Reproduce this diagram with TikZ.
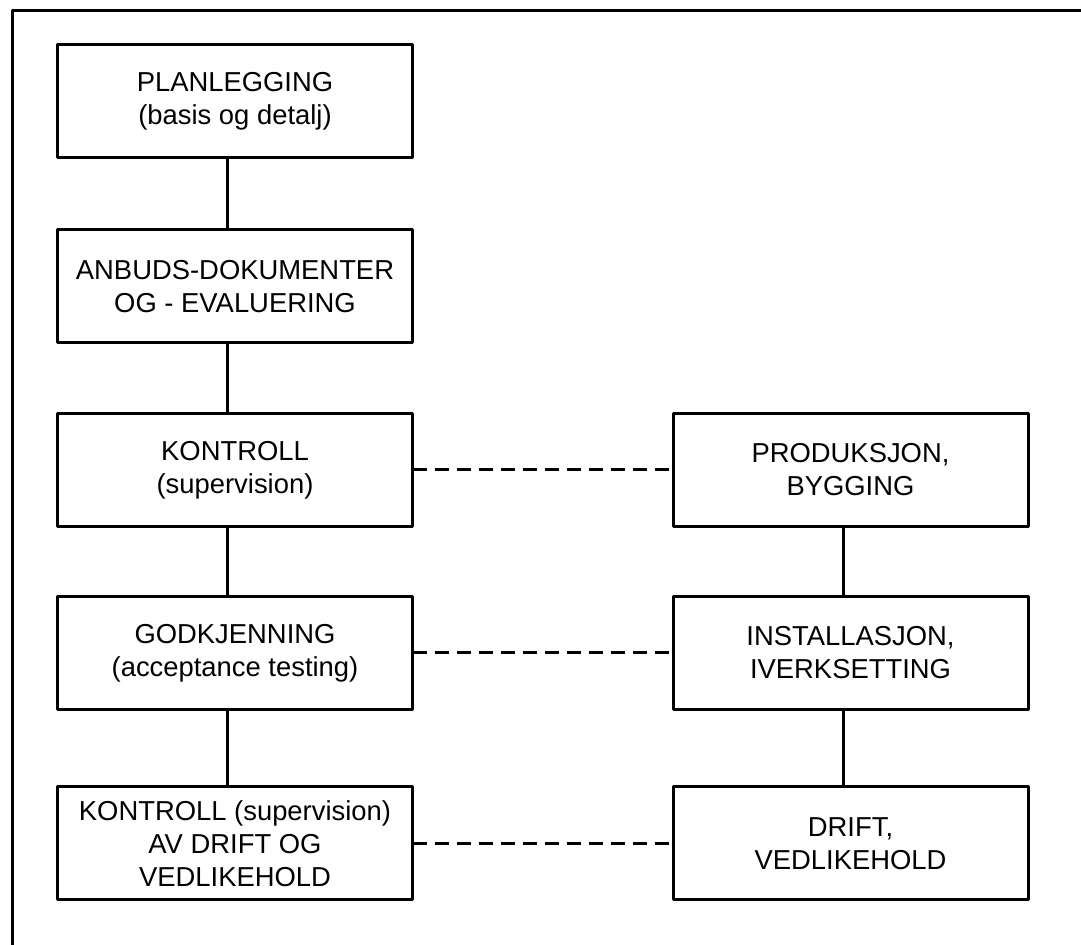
\documentclass[tikz,border=0pt]{standalone}
\usepackage{fontspec}
\setmainfont{Liberation Sans}
\begin{document}
\begin{tikzpicture}[>=latex,line join=bevel,
    stagebox/.style={draw=black,rectangle,line width=3bp,inner sep=0pt,outer sep=0pt,
      minimum width=355bp,minimum height=113bp,align=center,
      font=\fontsize{27.5}{33}\selectfont},
    link/.style={line width=3bp},
    dashlink/.style={line width=3bp,dash pattern=on 14bp off 8bp}]
    %%
    \useasboundingbox (0bp,0bp) rectangle (1081bp,945bp);
    \coordinate (fl) at (12bp,0bp);
    \coordinate (ftl) at (12bp,934bp);
    \coordinate (ftr) at (1081bp,934bp);
    \draw [link] (fl) -- (ftl) -- (ftr);
    %%
    \node (plan) at (235bp,843.5bp) [stagebox] {PLANLEGGING\\(basis og detalj)};
    \node (anbud) at (235bp,658.5bp) [stagebox] {ANBUDS-DOKUMENTER\\OG - EVALUERING};
    \node (kontroll) at (235bp,475bp) [stagebox] {KONTROLL\\(supervision)};
    \node (godkj) at (235bp,292bp) [stagebox] {GODKJENNING\\(acceptance testing)};
    \node (drkontroll) at (235bp,101.5bp) [stagebox] {KONTROLL (supervision)\\AV DRIFT OG\\VEDLIKEHOLD};
    \node (prod) at (850.5bp,475bp) [stagebox] {PRODUKSJON,\\BYGGING};
    \node (inst) at (850.5bp,292bp) [stagebox] {INSTALLASJON,\\IVERKSETTING};
    \node (drift) at (850.5bp,101.5bp) [stagebox] {DRIFT,\\VEDLIKEHOLD};
    %%
    \draw [link] ([xshift=-8bp]plan.south) -- ([xshift=-8bp]anbud.north);
    \draw [link] ([xshift=-8bp]anbud.south) -- ([xshift=-8bp]kontroll.north);
    \draw [link] ([xshift=-8bp]kontroll.south) -- ([xshift=-8bp]godkj.north);
    \draw [link] ([xshift=-8bp]godkj.south) -- ([xshift=-8bp]drkontroll.north);
    \draw [link] ([xshift=-7bp]prod.south) -- ([xshift=-7bp]inst.north);
    \draw [link] ([xshift=-7bp]inst.south) -- ([xshift=-7bp]drift.north);
    \draw [dashlink] (kontroll) -- (prod);
    \draw [dashlink] (godkj) -- (inst);
    \draw [dashlink] (drkontroll) -- (drift);
    %
\end{tikzpicture}
\end{document}
